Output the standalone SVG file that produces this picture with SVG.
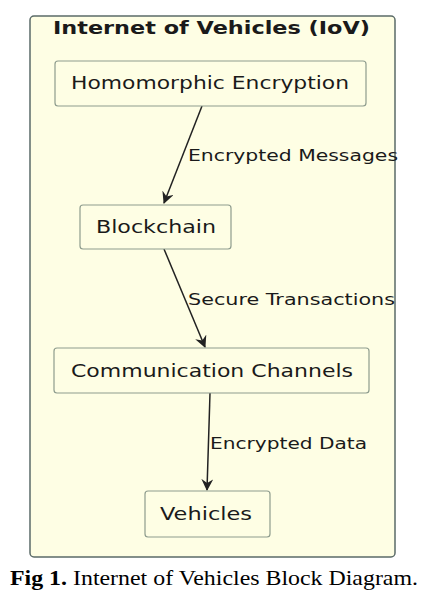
<svg xmlns="http://www.w3.org/2000/svg" width="427" height="616" viewBox="0 0 427 616">
<style>
.frame{fill:#fefee4;stroke:#5b6b68;stroke-width:1.5}
.node rect{fill:#fefee4;stroke:#8e9c8e;stroke-width:1.2}
.t{font-family:"DejaVu Sans",sans-serif;font-size:17px;fill:#1a1a1a}
.lbl{font-family:"DejaVu Sans",sans-serif;font-size:16.5px;fill:#1a1a1a}
.edge{stroke:#222;stroke-width:1.5;fill:none}
.cap{font-family:"Liberation Serif",serif;font-size:21px;fill:#000}
</style>
<defs>
<marker id="ah" viewBox="0 0 12 12" refX="11" refY="6" markerWidth="12" markerHeight="12" markerUnits="userSpaceOnUse" orient="auto">
<path d="M0,0 L12,6 L0,12 L4,6 Z" fill="#222"/>
</marker>
</defs>
<rect width="427" height="616" fill="#fff"/>
<g id="iov-frame">
<rect class="frame" x="30" y="16" width="365" height="541" rx="4"/>
<text x="53" y="34" font-family="DejaVu Sans,sans-serif" font-weight="bold" font-size="17" fill="#1a1a1a" textLength="317" lengthAdjust="spacingAndGlyphs">Internet of Vehicles (IoV)</text>
</g>
<g id="edges">
<line class="edge" x1="202" y1="106" x2="164" y2="203" marker-end="url(#ah)"/>
<line class="edge" x1="164" y1="249" x2="205" y2="347" marker-end="url(#ah)"/>
<line class="edge" x1="210" y1="393" x2="207" y2="490" marker-end="url(#ah)"/>
<text class="lbl" x="188" y="161" textLength="210" lengthAdjust="spacingAndGlyphs">Encrypted Messages</text>
<text class="lbl" x="188" y="305" textLength="207" lengthAdjust="spacingAndGlyphs">Secure Transactions</text>
<text class="lbl" x="210" y="449" textLength="157" lengthAdjust="spacingAndGlyphs">Encrypted Data</text>
</g>
<g id="homomorphic" class="node">
<rect x="55" y="61" width="311" height="45" rx="3"/>
<text class="t" x="71" y="89" textLength="278" lengthAdjust="spacingAndGlyphs">Homomorphic Encryption</text>
</g>
<g id="blockchain" class="node">
<rect x="80" y="205" width="151" height="44" rx="3"/>
<text class="t" x="96" y="233" textLength="120" lengthAdjust="spacingAndGlyphs">Blockchain</text>
</g>
<g id="channels" class="node">
<rect x="54" y="348" width="315" height="45" rx="3"/>
<text class="t" x="71" y="377" textLength="282" lengthAdjust="spacingAndGlyphs">Communication Channels</text>
</g>
<g id="vehicles" class="node">
<rect x="145" y="491" width="125" height="46" rx="3"/>
<text class="t" x="160" y="520" textLength="92" lengthAdjust="spacingAndGlyphs">Vehicles</text>
</g>
<g id="caption">
<text class="cap" x="10" y="585" textLength="408" lengthAdjust="spacingAndGlyphs"><tspan font-weight="bold">Fig 1.</tspan> Internet of Vehicles Block Diagram.</text>
</g>
</svg>
